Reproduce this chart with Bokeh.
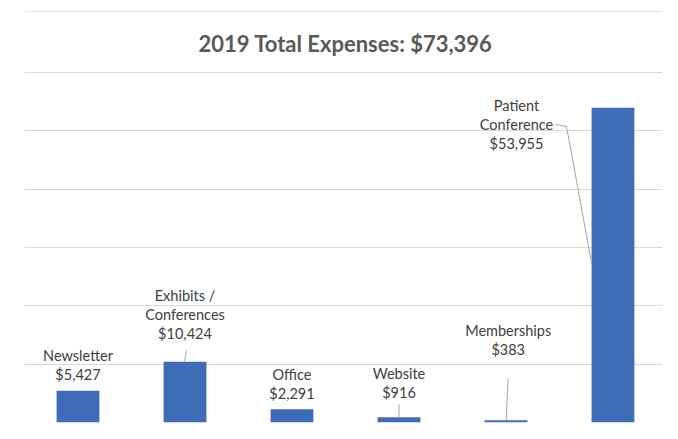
from bokeh.plotting import figure
from bokeh.models import Range1d, FixedTicker
from bokeh.core.properties import value
from bokeh.embed import file_html
from bokeh.resources import INLINE

# ---- data ----
categories = ["Newsletter", "Exhibits / Conferences", "Office", "Website", "Memberships", "Patient Conference"]
amounts = [5427, 10424, 2291, 916, 383, 53955]
label_lines = [["Newsletter"], ["Exhibits /", "Conferences"], ["Office"], ["Website"], ["Memberships"], ["Patient", "Conference"]]
title_text = "2019 Total Expenses: $73,396"
grid_ticks = [0, 10000, 20000, 30000, 40000, 50000, 60000]

# ---- layout (canvas pixel geometry) ----
W, H = 662, 423
FRAME_L, FRAME_R = 24, 662
FRAME_B = 422
FRAME_T = 0
PX_PER_UNIT = 350 / 60000
CAT_W = 107.0

def xd(px):
    return (px - FRAME_L) / CAT_W - 0.5

def yd(py):
    return (FRAME_B - py) / PX_PER_UNIT

p = figure(width=W, height=H, output_backend="svg", toolbar_location=None,
           x_range=Range1d(xd(FRAME_L), xd(FRAME_R)), y_range=Range1d(0, yd(FRAME_T)),
           min_border_left=FRAME_L, min_border_right=W - FRAME_R,
           min_border_top=FRAME_T, min_border_bottom=H - FRAME_B)
p.xaxis.visible = False
p.yaxis.visible = False
p.xgrid.visible = False
p.ygrid.ticker = FixedTicker(ticks=grid_ticks)
p.ygrid.grid_line_color = "#d9d9d9"
p.ygrid.grid_line_width = 1
p.outline_line_color = None
p.background_fill_color = "white"
p.border_fill_color = "white"

idx = list(range(len(categories)))
p.vbar(x=idx, top=amounts, width=0.4, fill_color="#3f6cb6", line_color=None)

# faint chart frame top line
p.segment(x0=[xd(FRAME_L)], y0=[yd(11)], x1=[xd(FRAME_R)], y1=[yd(11)],
          line_color="#e3e3e3", line_width=1)

# title
p.text(x=[xd(345)], y=[yd(43)], text=[title_text], text_align="center",
       text_baseline="middle", text_font=value("Lato"), text_font_style="bold",
       text_font_size="22px", text_color="#595959")

# data labels: pixel anchor of the first line (x centre, y centre)
label_anchor = [(77.5, 355), (184.5, 295), (291.5, 374), (398.5, 373), (507.7, 330), (516, 105)]
LINE_H = 19
lx, ly, lt = [], [], []
for lines, amt, (ax, ay) in zip(label_lines, amounts, label_anchor):
    all_lines = lines + ["${:,}".format(amt)]
    for k, t in enumerate(all_lines):
        lx.append(xd(ax))
        ly.append(yd(ay + k * LINE_H))
        lt.append(t)
p.text(x=lx, y=ly, text=lt, text_align="center", text_baseline="middle",
       text_font=value("Lato"), text_font_size="14.5px", text_color="#404040")

# leader lines (from label to bar)
leader_start = {1: [(186, 350)], 3: [(398.5, 404)], 4: [(507.7, 378)], 5: [(555, 124), (566, 126)]}
leader_end_px = {1: 184, 3: 398.5, 4: 505.7, 5: 591}
leader_end_y = {1: None, 3: None, 4: None, 5: 262}
xs, ys = [], []
for i, pts in leader_start.items():
    px_list = [xd(a) for a, b in pts]
    py_list = [yd(b) for a, b in pts]
    px_list.append(xd(leader_end_px[i]))
    py_list.append(amounts[i] if leader_end_y[i] is None else yd(leader_end_y[i]))
    xs.append(px_list)
    ys.append(py_list)
p.multi_line(xs=xs, ys=ys, line_color="#a6a6a6", line_width=1)

open("out.html", "w").write(file_html(p, INLINE))
